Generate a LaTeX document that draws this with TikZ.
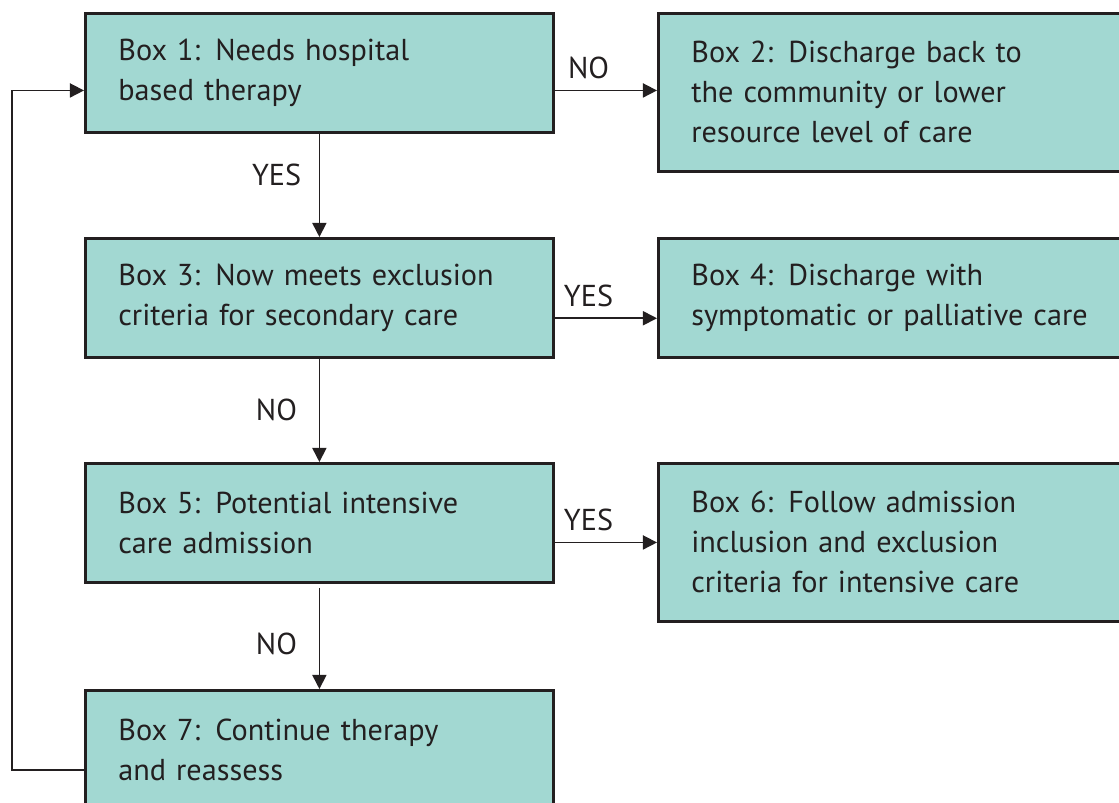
\documentclass[tikz,border=0pt]{standalone}
\usepackage{fontspec}
\setmainfont{PT Sans}
\usetikzlibrary{positioning,arrows.meta}
\definecolor{boxfill}{HTML}{A2D8D2}
\definecolor{ink}{HTML}{231F20}
\tikzstyle{box}=[draw=ink, line width=1.9pt, fill=boxfill, text=ink, anchor=north west, align=left, text width=10.05cm, inner xsep=0.825cm, inner ysep=0pt, font=\fontsize{21.5}{28.45}\selectfont]
\tikzstyle{arr}=[draw=ink, line width=1.2pt, -{Triangle[length=10pt,width=10pt]}]
\tikzstyle{lbl}=[text=ink, font=\fontsize{21.5}{28.45}\selectfont]

\begin{document}
\begin{tikzpicture}[x=0.025cm, y=-0.025cm]
\useasboundingbox (0,0) rectangle (1119,803);
\node[box, minimum height=2.975cm] (b1) at (84,12) {Box 1: Needs hospital\\based therapy};
\node[box, minimum height=3.95cm] (b2) at (657,12) {Box 2: Discharge back to\\the community or lower\\resource level of care};
\node[box, minimum height=2.975cm] (b3) at (84,237) {Box 3: Now meets exclusion\\criteria for secondary care};
\node[box, minimum height=2.975cm] (b4) at (657,237) {Box 4: Discharge with\\symptomatic or palliative care};
\node[box, minimum height=2.975cm] (b5) at (84,462) {Box 5: Potential intensive\\care admission};
\node[box, minimum height=3.95cm] (b6) at (657,462) {Box 6: Follow admission\\inclusion and exclusion\\criteria for intensive care};
\node[box, minimum height=2.975cm] (b7) at (84,689) {Box 7: Continue therapy\\and reassess};
% side exits sit a bit below the box middle
\coordinate (o1) at ([yshift=-0.44cm]b1.east);
\coordinate (o3) at ([yshift=-0.51cm]b3.east);
\coordinate (o5) at ([yshift=-0.49cm]b5.east);
\coordinate (i1) at ([yshift=-0.44cm]b1.west);
\coordinate (o7) at ([yshift=-0.5cm]b7.west);
\coordinate (lft) at (12,0);
\draw[arr] (o1) -- node[lbl, above=4pt, pos=0.33] {NO} (o1 -| b2.west);
\draw[arr] (o3) -- node[lbl, above=4pt, pos=0.33] {YES} (o3 -| b4.west);
\draw[arr] (o5) -- node[lbl, above=4pt, pos=0.33] {YES} (o5 -| b6.west);
\draw[arr] (b1.south) -- node[lbl, left=9pt, pos=0.4] {YES} (b3.north);
\draw[arr] (b3.south) -- node[lbl, left=12pt] {NO} (b5.north);
\draw[arr] ([yshift=-3pt]b5.south) -- node[lbl, left=12pt, pos=0.55] {NO} (b7.north);
\draw[arr] (o7) -- (o7 -| lft) -- (i1 -| lft) -- (i1);
\end{tikzpicture}
\end{document}
